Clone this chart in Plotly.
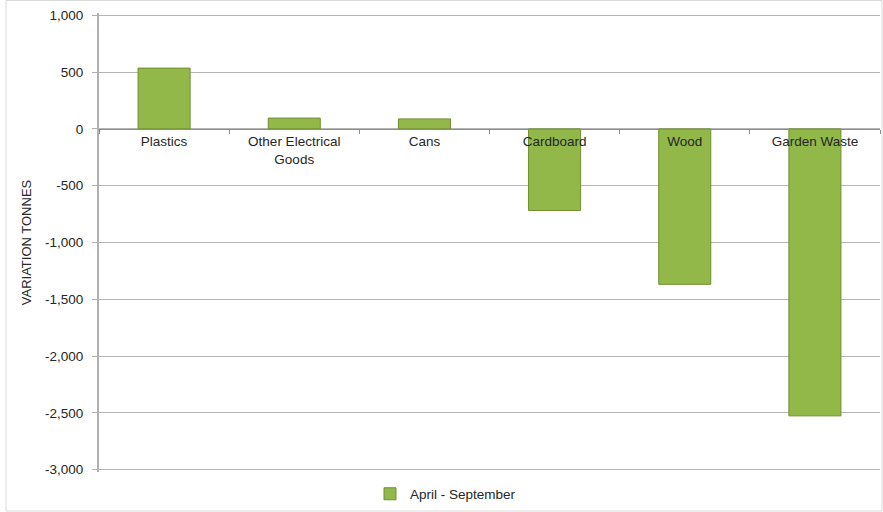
import plotly.graph_objects as go

categories = ["Plastics", "Other Electrical<br>Goods", "Cans", "Cardboard", "Wood", "Garden Waste"]
values = [535, 95, 88, -718, -1368, -2526]
series_name = "April - September"
y_tickvals = [1000, 500, 0, -500, -1000, -1500, -2000, -2500, -3000]
y_ticktext = ["1,000", "500", "0", "-500", "-1,000", "-1,500", "-2,000", "-2,500", "-3,000"]

FONT = "Liberation Sans, Arial, sans-serif"
FS = 13.5

fig = go.Figure()
fig.add_trace(go.Bar(
    x=categories, y=values, name=series_name,
    marker=dict(color="#92b84a", line=dict(color="#6f8f30", width=1)),
    width=0.4, showlegend=True,
))

L, R, T, B = 99, 3, 13, 40
W, H = 883, 512
pw, ph = W - L - R, H - T - B
YMIN, YMAX = -3020, 1020

fig.update_layout(
    width=W, height=H,
    margin=dict(l=L, r=R, t=T, b=B),
    paper_bgcolor="white", plot_bgcolor="white",
    font=dict(family=FONT, size=FS, color="#262626"),
    showlegend=True,
    legend=dict(orientation="h", x=(370 - L) / pw, xanchor="left",
                y=-(494 - (H - B)) / ph, yanchor="middle",
                font=dict(family=FONT, size=FS, color="#262626"),
                itemwidth=30, bgcolor="rgba(0,0,0,0)"),
)

fig.update_xaxes(
    type="category",
    anchor="free", position=(0 - YMIN) / (YMAX - YMIN),
    showline=True, linecolor="#8c8c8c", linewidth=1,
    ticks="outside", tickson="boundaries", ticklen=4, tickcolor="#8c8c8c",
    showgrid=False, zeroline=False,
    tickfont=dict(family=FONT, size=FS, color="#262626"),
)
fig.update_yaxes(
    range=[YMIN, YMAX],
    tickvals=y_tickvals, ticktext=y_ticktext,
    showline=True, linecolor="#b0b0b0", linewidth=2,
    ticks="outside", ticklen=5, tickcolor="#b0b0b0",
    ticklabelstandoff=6,
    showgrid=True, gridcolor="#b5b5b5", gridwidth=1,
    zeroline=False,
    tickfont=dict(family=FONT, size=FS, color="#262626"),
    title=dict(text="VARIATION TONNES", font=dict(family=FONT, size=13, color="#262626"), standoff=10),
)

# outer chart frame
fig.add_shape(type="rect", xref="paper", yref="paper",
              x0=(6 - L) / pw, x1=(882 - L) / pw,
              y0=-(511 - (H - B)) / ph, y1=((H - B) - 0.5) / ph,
              line=dict(color="#d9d9d9", width=1), layer="below")

fig.write_html("out.html")
